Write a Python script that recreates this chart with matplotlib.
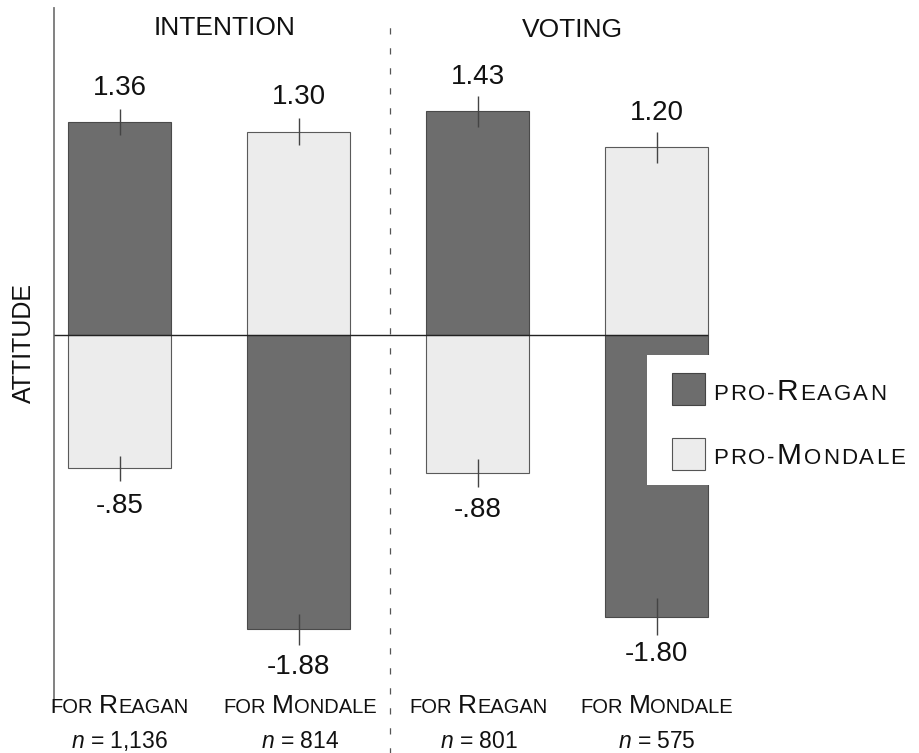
import numpy as np
import matplotlib
matplotlib.use('Agg')
import matplotlib.pyplot as plt
from matplotlib.patches import Rectangle

plt.rcParams['font.family'] = ['Liberation Sans', 'DejaVu Sans']
plt.rcParams['mathtext.fontset'] = 'custom'
plt.rcParams['mathtext.it'] = 'Liberation Sans:italic'
plt.rcParams['mathtext.rm'] = 'Liberation Sans'

# data
pro_reagan = [1.36, -1.88, 1.43, -1.80]
pro_mondale = [-0.85, 1.30, -0.88, 1.20]
err_reagan = [0.085, 0.10, 0.10, 0.12]
err_mondale = [0.08, 0.085, 0.09, 0.10]
candidates = [('R', 'EAGAN'), ('M', 'ONDALE'), ('R', 'EAGAN'), ('M', 'ONDALE')]
n_values = ['1,136', '814', '801', '575']
panels = ['INTENTION', 'VOTING']

DARK = '#6d6d6d'
LIGHT = '#ececec'
W, H = 920, 753

fig = plt.figure(figsize=(9.2, 7.53), dpi=100)
ax = fig.add_axes([54 / W, 41 / H, 866 / W, 704 / H])

# px scale: 179 px per bar slot, 156.5 px per unit
ax.set_xlim(-65.5 / 179, 800.5 / 179)
ax.set_ylim(-377 / 156.5, 327 / 156.5)

x = np.arange(4)
width = 0.575
ax.bar(x, pro_reagan, width, color=DARK, edgecolor='#4a4a4a', linewidth=0.8, zorder=2)
ax.bar(x, pro_mondale, width, color=LIGHT, edgecolor='#5a5a5a', linewidth=0.8, zorder=2)
ax.errorbar(x, pro_reagan, yerr=err_reagan, fmt='none', ecolor='#444444', elinewidth=1, capsize=0, zorder=3)
ax.errorbar(x, pro_mondale, yerr=err_mondale, fmt='none', ecolor='#444444', elinewidth=1, capsize=0, zorder=3)

ax.hlines(0, ax.get_xlim()[0], 3 + width / 2, color='#222222', linewidth=1, zorder=4)
ax.axvline(1.51, ymin=-0.06, ymax=0.99, color='#555555', linewidth=0.9,
           linestyle=(0, (5, 11)), clip_on=False)


def fmt(v):
    s = f'{v:.2f}'
    return s.replace('0.', '.') if abs(v) < 1 else s


for xi, vals in zip(x, zip(pro_reagan, pro_mondale)):
    for v in vals:
        if v > 0:
            ax.text(xi, v + 0.176, fmt(v), ha='center', va='baseline', fontsize=20, color='#111111')
        else:
            ax.text(xi, v - 0.286, fmt(v), ha='center', va='baseline', fontsize=20, color='#111111')

for s in ['top', 'right', 'bottom']:
    ax.spines[s].set_visible(False)
ax.spines['left'].set_color('#777777')
ax.spines['left'].set_linewidth(1.3)
ax.set_xticks([])
ax.set_yticks([])

renderer = fig.canvas.get_renderer()


def smallcaps(xp, yp, parts, ha='center', track=0.0, zorder=3):
    # parts: (text, fontsize) or (None, gap_px); xp, yp in pixels from top-left
    pieces = []
    for s, v in parts:
        if s is None:
            pieces.append((None, v))
        elif track:
            pieces += [(c, v) for c in s]
        else:
            pieces.append((s, v))
    widths = []
    for s, v in pieces:
        if s is None:
            widths.append(v)
        else:
            t = fig.text(0, 0, s, fontsize=v)
            widths.append(t.get_window_extent(renderer).width)
            t.remove()
    total = sum(widths) + track * (len(pieces) - 1)
    x0 = xp - total / 2 if ha == 'center' else xp
    for (s, v), w in zip(pieces, widths):
        if s is not None:
            fig.text(x0 / W, 1 - yp / H, s, fontsize=v, ha='left', va='baseline',
                     color='#111111', zorder=zorder)
        x0 += w + track


big, small = 19, 14.5
centers_px = [119.5, 300, 478.5, 656.5]
for cx, (cap, rest), n in zip(centers_px, candidates, n_values):
    smallcaps(cx, 713, [('FOR', small), (None, 6), (cap, big), (rest, small)])
    fig.text(cx / W, 1 - 748 / H, f'$n$ = {n}', fontsize=16.5, ha='center', va='baseline', color='#111111')

fig.text(225 / W, 1 - 28 / H, panels[0], fontsize=19, ha='center', va='center', color='#111111')
fig.text(572 / W, 1 - 30 / H, panels[1], fontsize=19, ha='center', va='center', color='#111111')
fig.text(24 / W, 1 - 343 / H, 'ATTITUDE', fontsize=18, rotation=90, ha='center', va='center', color='#111111')

# legend
fig.add_artist(Rectangle((647 / W, 1 - 485 / H), 273 / W, 130 / H, transform=fig.transFigure,
                         facecolor='white', edgecolor='none', zorder=5))
fig.add_artist(Rectangle((672 / W, 1 - 405 / H), 33 / W, 32 / H, transform=fig.transFigure,
                         facecolor=DARK, edgecolor='#444444', linewidth=0.8, zorder=6))
fig.add_artist(Rectangle((672 / W, 1 - 470 / H), 33 / W, 32 / H, transform=fig.transFigure,
                         facecolor=LIGHT, edgecolor='#555555', linewidth=0.8, zorder=6))
smallcaps(713, 400, [('PRO-', 16), ('R', 21.5), ('EAGAN', 16)], ha='left', track=2, zorder=7)
smallcaps(713, 464, [('PRO-', 16), ('M', 21.5), ('ONDALE', 16)], ha='left', track=2, zorder=7)

fig.savefig('out.png', dpi=100)
